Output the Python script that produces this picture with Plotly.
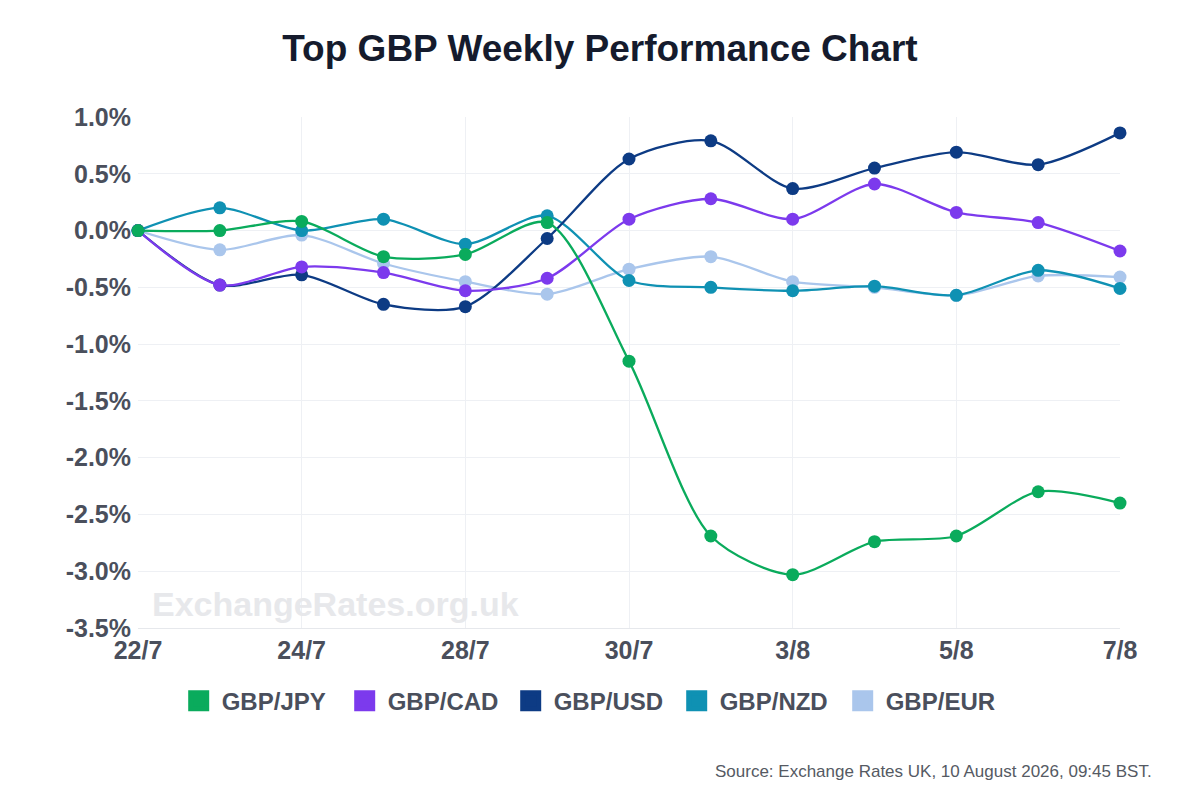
import plotly.graph_objects as go

dates = ["22/7", "23/7", "24/7", "27/7", "28/7", "29/7", "30/7", "31/7",
         "3/8", "4/8", "5/8", "6/8", "7/8"]
x_ticks = ["22/7", "24/7", "28/7", "30/7", "3/8", "5/8", "7/8"]

gbp_jpy = [0.0, 0.0, 0.08, -0.23, -0.21, 0.07, -1.15, -2.69, -3.03, -2.74, -2.69, -2.30, -2.40]
gbp_cad = [0.0, -0.48, -0.32, -0.37, -0.53, -0.42, 0.10, 0.28, 0.10, 0.41, 0.16, 0.07, -0.18]
gbp_usd = [0.0, -0.48, -0.39, -0.65, -0.67, -0.07, 0.63, 0.79, 0.37, 0.55, 0.69, 0.58, 0.86]
gbp_nzd = [0.0, 0.20, 0.0, 0.10, -0.12, 0.13, -0.44, -0.50, -0.53, -0.49, -0.57, -0.35, -0.51]
gbp_eur = [0.0, -0.17, -0.04, -0.29, -0.45, -0.56, -0.34, -0.23, -0.45, -0.50, -0.57, -0.40, -0.41]

y_tickvals = [1.0, 0.5, 0.0, -0.5, -1.0, -1.5, -2.0, -2.5, -3.0, -3.5]
y_ticktext = ["1.0%", "0.5%", "0.0%", "-0.5%", "-1.0%", "-1.5%", "-2.0%", "-2.5%", "-3.0%", "-3.5%"]

series = [
    ("GBP/JPY", gbp_jpy, "#0aab5c"),
    ("GBP/CAD", gbp_cad, "#7c3aed"),
    ("GBP/USD", gbp_usd, "#0d3b84"),
    ("GBP/NZD", gbp_nzd, "#0f91b3"),
    ("GBP/EUR", gbp_eur, "#aac6ec"),
]

FONT = "Liberation Sans, Arial, Helvetica, sans-serif"

fig = go.Figure()

# data traces (drawn in reverse so the first series sits on top)
for name, vals, color in reversed(series):
    fig.add_trace(go.Scatter(
        x=dates, y=vals, name=name, mode="lines+markers",
        line=dict(color=color, width=2.3, shape="spline", smoothing=0.8),
        marker=dict(color=color, size=13),
        showlegend=False, cliponaxis=False,
    ))

# legend entries with square swatches
for name, vals, color in series:
    fig.add_trace(go.Scatter(
        x=[None], y=[None], name=name, mode="markers",
        marker=dict(color=color, size=16, symbol="square",
                    line=dict(color=color, width=5)),
        showlegend=True,
    ))

fig.update_layout(
    width=1200, height=800,
    paper_bgcolor="white", plot_bgcolor="white",
    margin=dict(l=130, r=88, t=109, b=180),
    title=dict(text="Top GBP Weekly Performance Chart",
               x=0.4933, xanchor="center", y=0.95, yanchor="middle",
               font=dict(family=FONT, size=37, color="#151b2d", weight="bold")),
    font=dict(family=FONT),
    legend=dict(orientation="h", x=0.461, xanchor="center", y=-0.143, yanchor="middle",
                font=dict(size=24, color="#4a4f5c", family=FONT, weight="bold"),
                itemsizing="trace", traceorder="normal", itemwidth=36,
                entrywidth=115, entrywidthmode="pixels"),
    xaxis=dict(type="category", categoryorder="array", categoryarray=dates,
               range=[0, 12], tickvals=x_ticks, ticktext=x_ticks,
               showgrid=True, gridcolor="#eef0f4", gridwidth=1,
               showline=True, linecolor="#e6e8ec", zeroline=False,
               ticks="", tickfont=dict(size=25, color="#4a4f5c", weight="bold"),
               ticklabelstandoff=0),
    yaxis=dict(range=[-3.5, 1.0], tickvals=y_tickvals, ticktext=y_ticktext,
               showgrid=True, gridcolor="#eef0f4", gridwidth=1,
               zeroline=False, showline=False, ticks="",
               tickfont=dict(size=25, color="#4a4f5c", weight="bold"),
               ticklabelstandoff=6),
    annotations=[
        dict(text="ExchangeRates.org.uk", xref="paper", yref="paper",
             x=0.0122, y=0.047, xanchor="left", yanchor="middle", showarrow=False,
             font=dict(size=34, color="#e7e8eb", family=FONT, weight="bold")),
        dict(text="Source: Exchange Rates UK, 10 August 2026, 09:45 BST.",
             xref="paper", yref="paper", x=1.0346, y=-0.28,
             xanchor="right", yanchor="middle", showarrow=False,
             font=dict(size=17, color="#555a63", family=FONT)),
    ],
)

fig.write_html("out.html")
